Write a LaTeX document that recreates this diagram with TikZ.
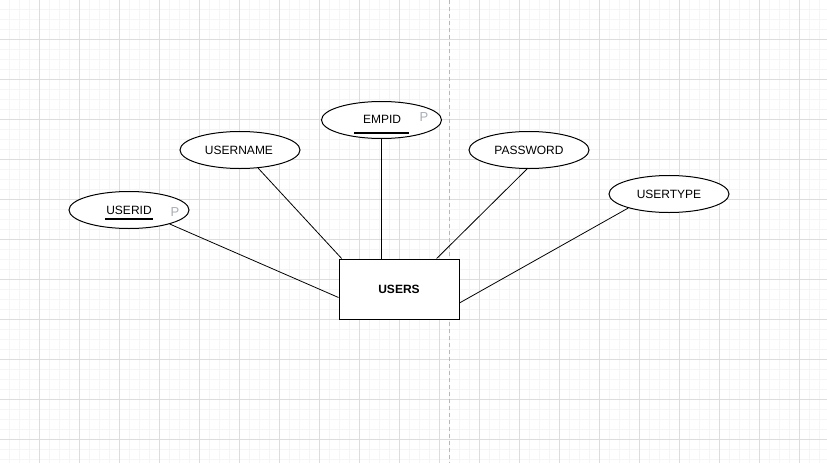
\documentclass[tikz,border=0pt]{standalone}
\usepackage{fontspec}
\setmainfont{Liberation Sans}
\usetikzlibrary{shapes.geometric,calc}
\definecolor{majorgrid}{HTML}{DDDDDD}
\definecolor{minorgrid}{HTML}{F5F5F5}
\definecolor{pgray}{HTML}{A9AFB5}
\tikzset{
  attr/.style={draw, ellipse, line width=1pt, minimum width=120pt, minimum height=37pt, inner sep=0pt, fill=white},
  entity/.style={draw, rectangle, line width=1pt, minimum width=120pt, minimum height=60pt, inner sep=0pt, fill=white, font=\fontsize{12pt}{14pt}\selectfont\bfseries},
  lbl/.style={inner sep=0pt, font=\fontsize{12pt}{14pt}\selectfont},
  pk/.style={inner sep=0pt, text=pgray, font=\fontsize{13pt}{15pt}\selectfont},
  conn/.style={line width=0.8pt},
  uline/.style={line width=2pt}
}
\begin{document}
\begin{tikzpicture}[x=1pt,y=-1pt]
\useasboundingbox (0,0) rectangle (827,463);
\fill[white] (0,0) rectangle (827,463);
% minor grid
\foreach \i in {0,...,82} {\draw[minorgrid, line width=0.7pt] ({10*\i-1},0) -- ({10*\i-1},463);}
\foreach \j in {0,...,46} {\draw[minorgrid, line width=0.7pt] (0,{10*\j-1}) -- (827,{10*\j-1});}
% major grid
\foreach \i in {0,...,20} {\draw[majorgrid, line width=0.9pt] ({40*\i-1},0) -- ({40*\i-1},463);}
\foreach \j in {0,...,11} {\draw[majorgrid, line width=0.9pt] (0,{40*\j-1}) -- (827,{40*\j-1});}
% page break
\draw[majorgrid!60!gray, line width=0.9pt, dash pattern=on 4pt off 3pt] (449,0) -- (449,463);

% nodes
\node[entity] (users) at (399,289) {USERS};
\node[attr] (userid) at (129,210) {};
\node[attr] (username) at (240,150) {};
\node[attr] (empid) at (381.5,120) {};
\node[attr] (password) at (529,150) {};
\node[attr] (usertype) at (669,194) {};

\node[lbl] (tuserid) at (129,210) {USERID};
\node[lbl] (tusername) at (239,150) {USERNAME};
\node[lbl] (tempid) at (382,119.5) {EMPID};
\node[lbl] (tpassword) at (529,150) {PASSWORD};
\node[lbl] (tusertype) at (669,194) {USERTYPE};

\node[pk] (puserid) at (175,212) {P};
\node[pk] (pempid) at (424,117) {P};

\coordinate (u1a) at (105,219);
\coordinate (u1b) at (153,219);
\draw[uline] (u1a) -- (u1b);
\coordinate (u2a) at (354,133);
\coordinate (u2b) at (409,133);
\draw[uline] (u2a) -- (u2b);

% connectors
\draw[conn] (userid.341) -- (users.188.5);
\draw[conn] (username.-45) -- (users.152.7);
\draw[conn] (empid.south) -- (empid.south |- users.north);
\draw[conn] (password.-96) -- (users.39);
\draw[conn] (usertype.199.6) -- (users.347);
\end{tikzpicture}
\end{document}
